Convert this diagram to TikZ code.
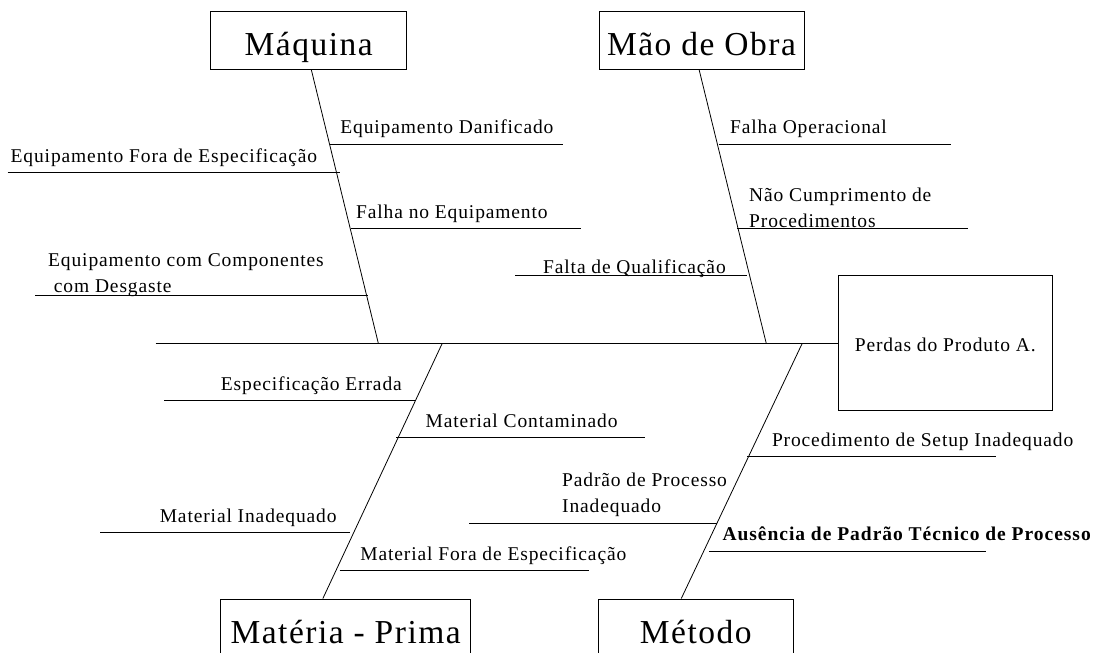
\documentclass[tikz,border=0pt]{standalone}
\usepackage{fontspec}
\setmainfont{Liberation Serif}[LetterSpace=4.5]
\newfontfamily\boldcause{Liberation Serif}[LetterSpace=5]
\newcommand{\causefont}{\fontsize{19.5}{26}\selectfont}
\newcommand{\effectfont}{\fontsize{33.5}{40}\selectfont}
\begin{document}
\begin{tikzpicture}[x=1pt,y=-1pt,
  bigbox/.style={draw, line width=0.9pt, font=\effectfont, minimum width=#1,
    minimum height=58pt, inner sep=0pt, text height=38.7pt, text depth=7.3pt},
  cause/.style={font=\causefont, inner sep=0pt, anchor=base west},
  twocause/.style={font=\causefont, inner sep=0pt, anchor=south west, align=left},
  bone/.style={line width=0.8pt}]
\useasboundingbox (0,0) rectangle (1098,653);

%Boxes
\node[bigbox=196pt] (maq) at (308.7,40) {Máquina};
\node[bigbox=205pt] (mao) at (701.5,40) {Mão de Obra};
\node[bigbox=250pt] (mat) at (345.7,628) {Matéria - Prima};
\node[bigbox=195pt] (met) at (695.8,628) {Método};
\node[draw, line width=0.9pt, font=\causefont, minimum width=214pt, minimum height=135pt,
  inner sep=0pt, text height=21pt, text depth=4.2pt] (perdas) at (945.3,343.2) {Perdas do Produto A.};

%Spine
\coordinate (spine) at (155.7,343.2);
\coordinate (s1) at (378.3,343.2);
\coordinate (s2) at (766.2,343.2);
\coordinate (s3) at (442.3,343.2);
\coordinate (s4) at (802.3,343.2);
\draw[bone] (spine) -- (perdas.west);

%Bones
\draw[bone] ([xshift=101pt]maq.south west) -- (s1);
\draw[bone] ([xshift=100.5pt]mao.south west) -- (s2);
\draw[bone] (s3) -- ([xshift=102.6pt]mat.north west);
\draw[bone] (s4) -- ([xshift=83.4pt]met.north west);

%Maquina
\draw[bone] (329.7,144) -- (562.7,144);
\node[cause] (eqdan) at (340.2,133.3) {Equipamento Danificado};
\draw[bone] (7.7,172.3) -- (340.2,172.3);
\node[cause] (eqfora) at (10.5,162.3) {Equipamento Fora de Especificação};
\draw[bone] (350.8,228.7) -- (580.6,228.7);
\node[cause] (eqfalha) at (356,218.3) {Falha no Equipamento};
\draw[bone] (35,295) -- (368.3,295);
\node[twocause] (eqdesg) at (48,296.5) {Equipamento com Componentes\\\ com Desgaste};

%Mao de Obra
\draw[bone] (718.8,144) -- (950.7,144);
\node[cause] (falhaop) at (730,133.3) {Falha Operacional};
\draw[bone] (737.4,228.7) -- (968.2,228.7);
\node[twocause] (naocump) at (749,228.2) {Não Cumprimento de\\Procedimentos};
\draw[bone] (515,275) -- (747,275);
\node[cause] (faltaq) at (543,273) {Falta de Qualificação};

%Materia - Prima
\draw[bone] (164.3,400) -- (415,400);
\node[cause] (especerr) at (220.7,390) {Especificação Errada};
\draw[bone] (396.3,437.7) -- (645.2,437.7);
\node[cause] (matcont) at (425.5,427) {Material Contaminado};
\draw[bone] (100,532.3) -- (350,532.3);
\node[cause] (matinad) at (159.6,522) {Material Inadequado};
\draw[bone] (339.5,570.7) -- (589.4,570.7);
\node[cause] (matfora) at (360.2,560.3) {Material Fora de Especificação};

%Metodo
\draw[bone] (747.2,456.7) -- (996.3,456.7);
\node[cause] (setup) at (771.8,446.3) {Procedimento de Setup Inadequado};
\draw[bone] (469.3,523.3) -- (717.4,523.3);
\node[twocause] (padrao) at (562,517.2) {Padrão de Processo\\Inadequado};
\draw[bone] (709.3,551.3) -- (986.4,551.3);
\node[cause, font=\causefont\boldcause\bfseries] (ausencia) at (722.3,540.7) {Ausência de Padrão Técnico de Processo};
\end{tikzpicture}
\end{document}
